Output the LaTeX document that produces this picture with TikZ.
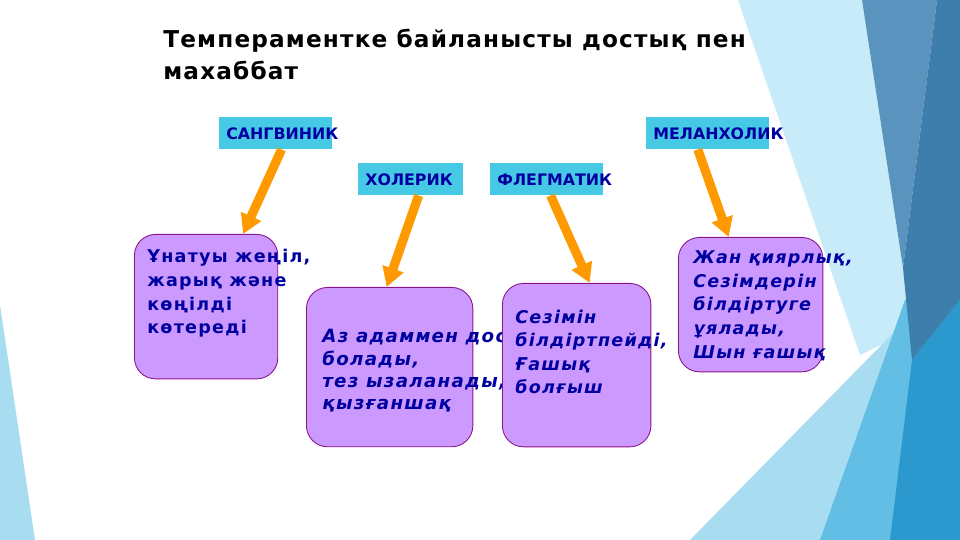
\documentclass[tikz,border=0pt]{standalone}
\usepackage{fontspec}
\setmainfont{DejaVu Sans}
\newfontfamily\widefont{DejaVu Sans}[LetterSpace=7]
\newfontfamily\headfont{DejaVu Sans}[LetterSpace=5]
\usetikzlibrary{arrows.meta, positioning, calc}
\definecolor{tagfill}{RGB}{69,201,229}
\definecolor{ink}{RGB}{0,0,160}
\definecolor{lilac}{RGB}{204,153,255}
\definecolor{plum}{RGB}{140,20,140}
\definecolor{flow}{RGB}{255,153,0}
\definecolor{pale}{RGB}{199,235,248}
\definecolor{sky}{RGB}{168,220,240}
\definecolor{midblue}{RGB}{98,190,228}
\definecolor{steel}{RGB}{90,148,190}
\definecolor{deep}{RGB}{62,126,172}
\definecolor{bright}{RGB}{43,152,206}

\begin{document}
\begin{tikzpicture}[x=0.02cm,y=-0.02cm,
     tag/.style={fill=tagfill,text=ink,font=\bfseries\fontsize{9}{11}\selectfont,anchor=north west,
                 minimum height=18.1pt,inner xsep=4pt,inner ysep=0pt,align=left},
     bubble/.style={draw=plum,fill=lilac,rounded corners=12pt,anchor=north west,inner sep=0pt,line width=0.5pt},
     say/.style={text=ink,font=\widefont\bfseries\fontsize{10}{13.6}\selectfont,anchor=base west,align=left,inner sep=0pt},
     slant/.style={say,font=\widefont\bfseries\itshape\fontsize{10}{13.4}\selectfont},
     link/.style={flow,line width=5.2pt,-{Triangle[length=11pt,width=12pt]}}]
    \useasboundingbox (0,0) rectangle (960,540);
    \fill[sky] (0,305) -- (35,540) -- (0,540) -- cycle;
    \fill[pale] (738,0) -- (862,0) -- (903,268) -- (912,330) -- (860,355) -- cycle;
    \fill[sky] (690,540) -- (960,265) -- (960,540) -- cycle;
    \fill[midblue] (820,540) -- (905,300) -- (960,280) -- (960,540) -- cycle;
    \fill[steel] (862,0) -- (937,0) -- (903,268) -- cycle;
    \fill[deep] (937,0) -- (960,0) -- (960,300) -- (912,360) -- (903,268) -- cycle;
    \fill[bright] (960,300) -- (960,540) -- (890,540) -- (912,360) -- cycle;

    \node[font=\headfont\bfseries\fontsize{13.2}{18.7}\selectfont,anchor=base west,align=left,inner sep=0pt] (title) at (163,80)
        {Темпераментке байланысты достық пен\\махаббат};

    \node[tag,text width=56pt] (san) at (219,117) {САНГВИНИК};
    \node[tag,text width=51.5pt] (hol) at (358,163) {ХОЛЕРИК};
    \node[tag,text width=56pt] (fleg) at (490,163) {ФЛЕГМАТИК};
    \node[tag,text width=62pt] (mel) at (646,117) {МЕЛАНХОЛИК};

    \node[bubble,minimum width=81.6pt,minimum height=82.2pt] (b1) at (134,234) {};
    \node[say] (t1) at (147,334) {Ұнатуы жеңіл,\\жарық және\\көңілді\\көтереді};
    \node[bubble,minimum width=94.7pt,minimum height=90.7pt] (b2) at (306,287) {};
    \node[slant,font=\widefont\bfseries\itshape\fontsize{10.4}{12.8}\selectfont] (t2) at (322,410) {Аз адаммен дос\\болады,\\тез ызаланады,\\қызғаншақ};
    \node[bubble,minimum width=84.5pt,minimum height=93pt] (b3) at (502,283) {};
    \node[slant] (t3) at (515,394) {Сезімін\\білдіртпейді,\\Ғашық\\болғыш};
    \node[bubble,minimum width=82.2pt,minimum height=76.5pt] (b4) at (678,237) {};
    \node[slant] (t4) at (693,358) {Жан қиярлық,\\Сезімдерін\\білдіртуге\\ұялады,\\Шын ғашық};

    \draw[link] ($(san.south)+(6,0)$) -- ($(b1.north)+(37,0)$);
    \draw[link] ($(hol.south)+(8,0)$) -- ($(b2.north)+(-3,0)$);
    \draw[link] ($(fleg.south)+(4,0)$) -- ($(b3.north)+(13,0)$);
    \draw[link] ($(mel.south)+(-10,0)$) -- ($(b4.north)+(-22,0)$);
  \end{tikzpicture}
\end{document}
